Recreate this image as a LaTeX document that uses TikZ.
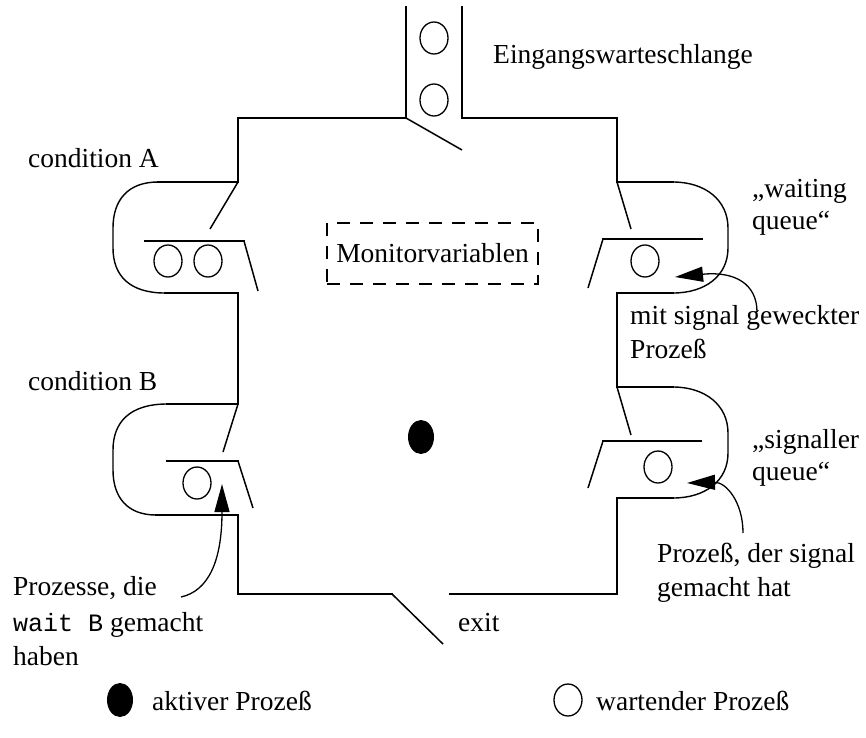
\documentclass[tikz,border=0pt]{standalone}
\usepackage{fontspec}
\setmainfont{Liberation Serif}
\setmonofont{Liberation Mono}
\usetikzlibrary{arrows.meta,shapes.geometric}

\begin{document}
\begin{tikzpicture}[x=1pt,y=-1pt,
  every node/.style={font=\fontsize{27.5}{33}\selectfont, inner sep=0pt},
  lbl/.style={anchor=base west},
  wall/.style={line width=2.6pt, line cap=rect},
  gate/.style={line width=1.5pt},
  bow/.style={line width=1.4pt},
  waiter/.style={draw, ellipse, line width=1.3pt, minimum width=28pt, minimum height=32pt},
  active/.style={fill=black, ellipse, minimum width=26pt, minimum height=34pt},
  pointer/.style={line width=1.3pt, -{Triangle[length=28pt, width=15pt]}},
  varbox/.style={draw, dash pattern=on 13pt off 10pt, line width=1.8pt}
]
\useasboundingbox (0,0) rectangle (866,737);

% entrance queue
\draw[wall] (406,7) -- (406,118) -- (238,118) -- (238,182) -- (158,182);
\draw[wall] (462,7) -- (462,118) -- (617,118) -- (617,182) -- (673,182);
\draw[gate] (406,118) -- (462,150);
\node[waiter] (e1) at (434,38) {};
\node[waiter] (e2) at (434,100) {};
\node[lbl] (entry) at (493,63) {Eingangswarteschlange};

% condition A
\draw[bow] (158,182) .. controls (128,182) and (113,200) .. (113,228) -- (113,248)
           .. controls (113,276) and (130,293) .. (165,293);
\draw[wall] (165,293) -- (238,293) -- (238,404) -- (167,404);
\draw[gate] (238,182) -- (210,229);
\draw[wall] (145,241) -- (244,241);
\draw[gate] (244,241) -- (258,291);
\node[waiter] (a1) at (168,261) {};
\node[waiter] (a2) at (208,261) {};
\node[lbl] (condA) at (28,167) {condition A};

% condition B
\draw[bow] (167,404) .. controls (130,404) and (113,422) .. (113,450) -- (113,470)
           .. controls (113,498) and (128,515) .. (156,515);
\draw[wall] (156,515) -- (238,515) -- (238,594) -- (392,594);
\draw[gate] (238,404) -- (223,452);
\draw[wall] (167,461) -- (238,461);
\draw[gate] (238,461) -- (253,508);
\node[waiter] (b1) at (197,483) {};
\node[lbl] (condB) at (28,390) {condition B};

% exit
\draw[gate] (392,594) -- (443,644);
\draw[wall] (450,594) -- (617,594) -- (617,498) -- (673,498);
\node[lbl] (exit) at (458,631) {exit};

% waiting queue (right, upper)
\draw[bow] (673,182) .. controls (705,182) and (728,200) .. (728,228) -- (728,248)
           .. controls (728,276) and (705,293) .. (673,293);
\draw[wall] (673,293) -- (617,293) -- (617,387) -- (673,387);
\draw[gate] (617,182) -- (631,229);
\draw[wall] (603,239) -- (702,239);
\draw[gate] (603,239) -- (588,288);
\node[waiter] (w1) at (645,261) {};
\node[lbl] (waitA) at (752,197) {„waiting};
\node[lbl] (waitB) at (752,229) {queue“};

% signaller queue (right, lower)
\draw[bow] (673,387) .. controls (705,387) and (728,405) .. (728,433) -- (728,453)
           .. controls (728,481) and (705,498) .. (673,498);
\draw[gate] (617,387) -- (631,435);
\draw[wall] (603,441) -- (701,441);
\draw[gate] (603,441) -- (588,488);
\node[waiter] (s1) at (658,467) {};
\node[lbl] (sigA) at (752,448) {„signaller};
\node[lbl] (sigB) at (752,480) {queue“};

% monitor variables and the active process
\node[varbox, minimum width=211pt, minimum height=61pt] (vars) at (432.5,253.5) {Monitorvariablen};
\node[active] (act) at (421,437) {};

% annotations
\node[lbl] (wokeA) at (630,324) {mit signal geweckter};
\node[lbl] (wokeB) at (630,358) {Prozeß};
\coordinate (wokeTip) at (675,277);
\coordinate (wokeFrom) at (757,312);
\draw[pointer] (wokeFrom) .. controls (757,284) and (735,271) .. (wokeTip);

\node[lbl] (sentA) at (657,562) {Prozeß, der signal};
\node[lbl] (sentB) at (657,596) {gemacht hat};
\coordinate (sentTip) at (687,483);
\coordinate (sentFrom) at (743,533);
\draw[pointer] (sentFrom) .. controls (743,502) and (726,482) .. (sentTip);

\node[lbl] (waitedA) at (13,595) {Prozesse, die};
\node[lbl] (waitedB) at (13,631) {{\fontsize{25}{33}\ttfamily wait B} gemacht};
\node[lbl] (waitedC) at (13,665) {haben};
\coordinate (waitedTip) at (222,484);
\coordinate (waitedFrom) at (181,597);
\draw[pointer] (waitedFrom) .. controls (208,591) and (222,562) .. (waitedTip);

% legend
\node[active] (legAct) at (120,700) {};
\node[lbl] (legActTxt) at (152,710) {aktiver Prozeß};
\node[waiter] (legWait) at (568,700) {};
\node[lbl] (legWaitTxt) at (596,710) {wartender Prozeß};
\end{tikzpicture}
\end{document}
